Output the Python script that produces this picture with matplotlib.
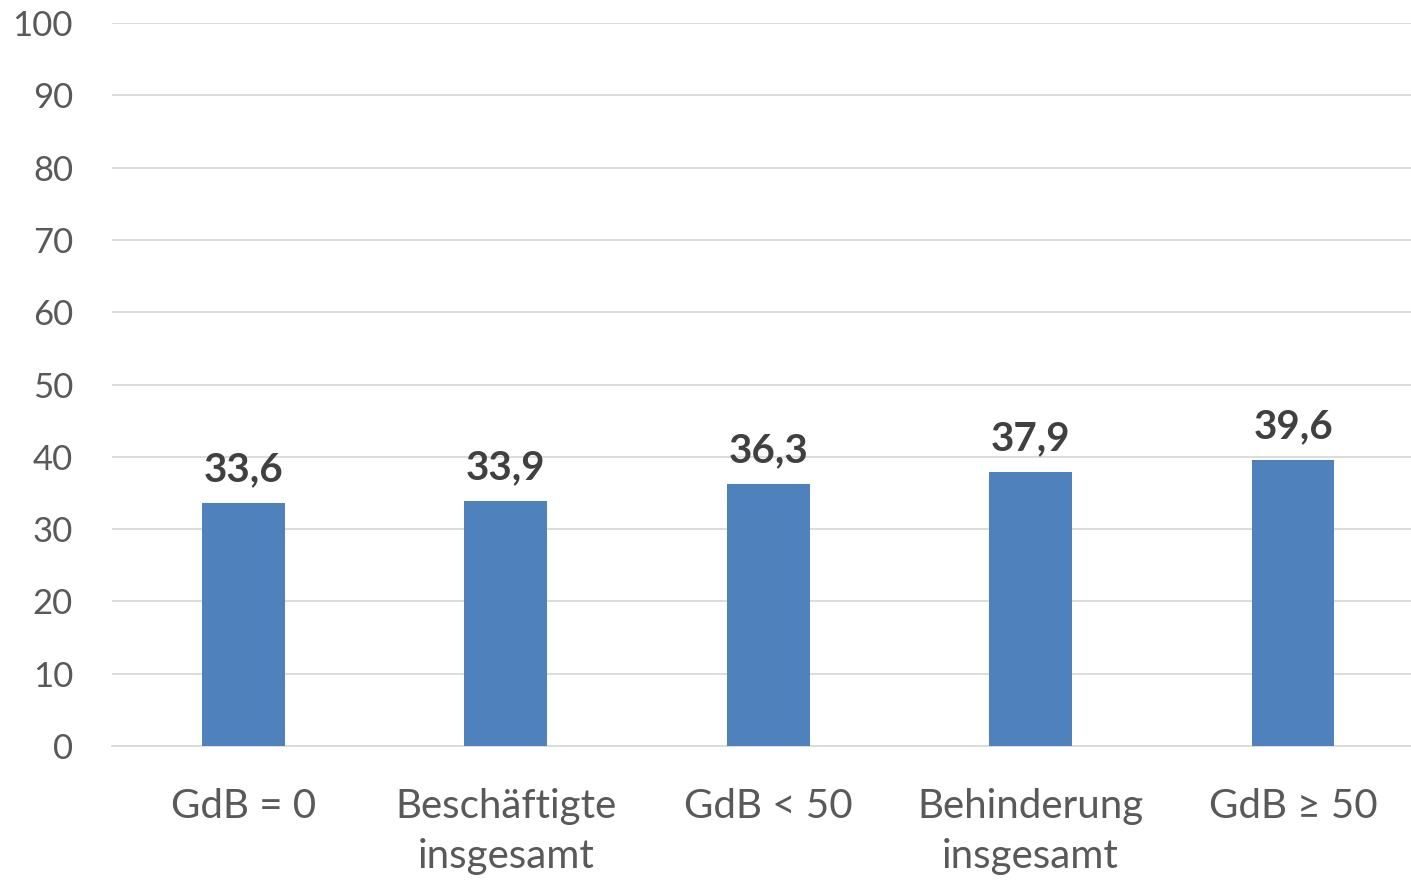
import matplotlib.pyplot as plt

# Data
categories = ['GdB = 0', 'Beschäftigte\ninsgesamt', 'GdB < 50', 'Behinderung\ninsgesamt', 'GdB ≥ 50']
values = [33.6, 33.9, 36.3, 37.9, 39.6]
y_ticks = [0, 10, 20, 30, 40, 50, 60, 70, 80, 90, 100]

plt.rcParams['font.family'] = ['Lato', 'DejaVu Sans']

fig = plt.figure(figsize=(14.11, 8.83), dpi=100)
ax = fig.add_axes([112 / 1411, 137 / 883, 1299 / 1411, 723 / 883])

x = range(len(categories))
ax.bar(x, values, width=0.315, color='#4F81BD', zorder=3)

for xi, v in zip(x, values):
    ax.text(xi, v + 3.0, f'{v:.1f}'.replace('.', ','), ha='center', va='baseline',
            fontsize=29, fontweight='bold', color='#404040')

ax.set_ylim(0, 100)
ax.set_xlim(-0.5, 4.449)
ax.set_yticks(y_ticks)
ax.set_yticklabels([str(t) for t in y_ticks], fontsize=25, color='#595959')
ax.set_xticks(list(x))
ax.set_xticklabels(categories, fontsize=29, color='#595959', linespacing=1.45)
ax.tick_params(axis='both', length=0)
ax.tick_params(axis='x', pad=30)
ax.tick_params(axis='y', pad=28)

ax.grid(axis='y', color='#D9D9D9', linewidth=1.3, zorder=0)
for s in ['top', 'right', 'left']:
    ax.spines[s].set_visible(False)
ax.spines['bottom'].set_color('#D9D9D9')
ax.spines['bottom'].set_linewidth(1.3)

fig.savefig('out.png', dpi=100)
